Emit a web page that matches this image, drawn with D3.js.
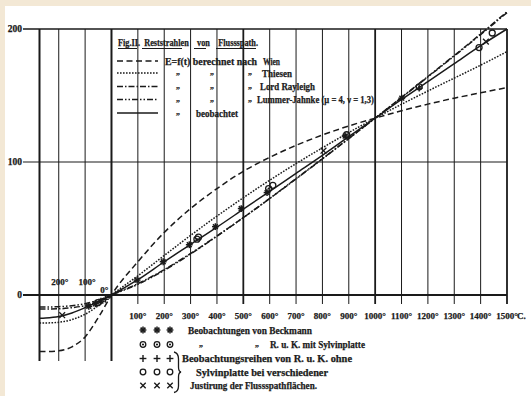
<!DOCTYPE html>
<html><head><meta charset="utf-8">
<script src="https://cdn.jsdelivr.net/npm/d3@7"></script>
<style>
html,body{margin:0;padding:0;background:#fff;}
svg{display:block;}
text{font-family:"Liberation Serif","DejaVu Serif",serif;font-weight:bold;fill:#1a1a1a;stroke:#1a1a1a;stroke-width:0.25px;}
</style></head><body>
<svg id="chart" width="531" height="396"></svg>
<script>
// Temperatures (°C) at which the curves are tabulated
const temps = [-273, -250, -200, -150, -100, -50, 0, 100, 200, 300, 400, 500, 600, 700, 800, 900, 1000, 1100, 1200, 1300, 1400, 1500];
// E = f(t) computed after the different radiation formulas
const wien     = [-42.5, -42.5, -42, -39, -31.5, -17, 0, 25, 47, 65, 80, 93, 103.5, 112.5, 120.3, 127.1, 133, 138.5, 143.5, 148, 152, 156];
const thiesen  = [-21, -21, -20.5, -18.5, -14.5, -8, 0, 14.4, 29.7, 44.8, 59.3, 73.1, 86.3, 98.8, 110.7, 122.1, 133, 143.4, 153.4, 163.1, 172.8, 183];
const rayleigh = [-10.5, -10.5, -10.4, -9.5, -8, -5, 0, 8.5, 19.1, 31.2, 44.4, 58.2, 72.5, 87.3, 102.3, 117.6, 133, 148.6, 164.3, 180.1, 196.3, 213];
const lummer   = [-9, -9, -8.8, -8, -6.5, -4, 0, 8, 18.6, 30.8, 44.2, 58.2, 72.6, 87.5, 102.5, 117.7, 133, 148.4, 164, 179.7, 195.8, 212.3];
const observed = [-17.5, -17.3, -16.2, -13.5, -9.5, -5, 0, 11.5, 25, 38, 51, 64.5, 78, 91.5, 105, 119, 133, 147, 160.5, 174, 187.5, 200];

// Observation points
const beckmannT = [-86, -61, -40, 97, 196, 295, 394, 492, 590, 886, 1101];
const beckmannE = [-8.6, -6.6, -4.6, 11.2, 25, 37.8, 51.4, 65, 77, 119.5, 148];
const sylvinT = [-52, 324, 596, 892, 1167];
const sylvinE = [-5.8, 42, 80, 120.5, 156.5];
const plusT = [-23, 1167];
const plusE = [-3.2, 155.5];
const ringT = [330, 612, 1394, 1444];
const ringE = [43.5, 82.5, 186, 197];
const crossT = [-187, 804, 1420];
const crossE = [-15.2, 108.5, 190.5];

// Axis ticks and labels
const posTicks = [100, 200, 300, 400, 500, 600, 700, 800, 900, 1000, 1100, 1200, 1300, 1400, 1500];
const negTicks = [-273, -200, -100, 0];
const heavyTicks = [-273, 0, 500, 1000, 1500];
const negLabels = ["200°", "100°", "0°"];
const yTicks = [0, 100, 200];

const ink = "#1a1a1a";
const svg = d3.select("#chart");

// paper edge
svg.append("rect").attr("width", 531).attr("height", 396).attr("fill", "#f3e8d5");
svg.append("rect").attr("x", 5).attr("y", 6).attr("width", 526).attr("height", 390).attr("fill", "#fff");

const x = d3.scaleLinear().domain([-273, 1500]).range([39.5, 507]);
const y = d3.scaleLinear().domain([0, 200]).range([295, 29]);

const g = svg.append("g");

// horizontal rules
yTicks.forEach(v => {
  g.append("line").attr("x1", 23).attr("x2", x(1500)).attr("y1", y(v)).attr("y2", y(v))
    .attr("stroke", ink).attr("stroke-width", v === 0 ? 1.9 : (v === 200 ? 1.5 : 1.1));
  g.append("text").attr("x", 22).attr("y", y(v) + 3).attr("text-anchor", "end")
    .attr("font-size", 9.5).text(v);
});

// vertical rules
posTicks.forEach(t => {
  g.append("line").attr("x1", x(t)).attr("x2", x(t)).attr("y1", y(200)).attr("y2", 304)
    .attr("stroke", ink).attr("stroke-width", heavyTicks.includes(t) ? 1.8 : 1);
});
negTicks.forEach(t => {
  g.append("line").attr("x1", x(t)).attr("x2", x(t)).attr("y1", y(200)).attr("y2", 361)
    .attr("stroke", ink).attr("stroke-width", heavyTicks.includes(t) ? 2 : 1);
});

// x labels
posTicks.forEach(t => {
  g.append("text").attr("x", x(t)).attr("y", 319).attr("text-anchor", "middle")
    .attr("font-size", 9).text(t + "°");
});
g.append("text").attr("x", x(1500) + 10).attr("y", 319).attr("font-size", 9).text("C.");
g.append("text").attr("x", x(-200) + 1).attr("y", 285).attr("text-anchor", "middle").attr("font-size", 9).text(negLabels[0]);
g.append("text").attr("x", x(-100) + 2).attr("y", 285).attr("text-anchor", "middle").attr("font-size", 9).text(negLabels[1]);
g.append("text").attr("x", x(0) - 3).attr("y", 293).attr("text-anchor", "end").attr("font-size", 9).text(negLabels[2]);

// curves
const line = d3.line().x(d => x(d[0])).y(d => y(d[1])).curve(d3.curveMonotoneX);
const curves = [
  { vals: wien, dash: "6,3.5" },
  { vals: thiesen, dash: "1.6,1.4" },
  { vals: rayleigh, dash: "6,2,1.5,2" },
  { vals: lummer, dash: "6,2,1.5,2,1.5,2" },
  { vals: observed, dash: null }
];
curves.forEach(c => {
  g.append("path").attr("d", line(temps.map((t, i) => [t, c.vals[i]])))
    .attr("fill", "none").attr("stroke", ink).attr("stroke-width", 1.5)
    .attr("stroke-dasharray", c.dash);
});

// marker shapes
function star(sel, cx, cy, r) {
  [0, 45, 90, 135].forEach(a => {
    const dx = r * Math.cos(a * Math.PI / 180), dy = r * Math.sin(a * Math.PI / 180);
    sel.append("line").attr("x1", cx - dx).attr("y1", cy - dy).attr("x2", cx + dx).attr("y2", cy + dy)
      .attr("stroke", ink).attr("stroke-width", 1.5);
  });
}
function ring(sel, cx, cy, r, dot) {
  sel.append("circle").attr("cx", cx).attr("cy", cy).attr("r", r).attr("fill", "none")
    .attr("stroke", ink).attr("stroke-width", 1.3);
  if (dot) sel.append("circle").attr("cx", cx).attr("cy", cy).attr("r", 1.1).attr("fill", ink);
}
function plus(sel, cx, cy, r) {
  sel.append("line").attr("x1", cx - r).attr("x2", cx + r).attr("y1", cy).attr("y2", cy).attr("stroke", ink).attr("stroke-width", 1.4);
  sel.append("line").attr("x1", cx).attr("x2", cx).attr("y1", cy - r).attr("y2", cy + r).attr("stroke", ink).attr("stroke-width", 1.4);
}
function cross(sel, cx, cy, r) {
  sel.append("line").attr("x1", cx - r).attr("x2", cx + r).attr("y1", cy - r).attr("y2", cy + r).attr("stroke", ink).attr("stroke-width", 1.3);
  sel.append("line").attr("x1", cx - r).attr("x2", cx + r).attr("y1", cy + r).attr("y2", cy - r).attr("stroke", ink).attr("stroke-width", 1.3);
}

beckmannT.forEach((t, i) => star(g, x(t), y(beckmannE[i]), 3.4));
sylvinT.forEach((t, i) => ring(g, x(t), y(sylvinE[i]), 3, true));
plusT.forEach((t, i) => plus(g, x(t), y(plusE[i]), 3.4));
ringT.forEach((t, i) => ring(g, x(t), y(ringE[i]), 3, false));
crossT.forEach((t, i) => cross(g, x(t), y(crossE[i]), 2.9));

// upper legend: title, each word underlined
const lg = svg.append("g");
lg.append("text").attr("x", 118).attr("y", 45.5).attr("font-size", 10.5)
  .style("white-space", "pre").attr("xml:space", "preserve")
  .attr("textLength", 140).attr("lengthAdjust", "spacingAndGlyphs")
  .text("Fig.II.  Reststrahlen    von    Flussspath.");
const underlines = [[118, 137], [142, 182], [194, 206], [216, 256]];
underlines.forEach(u => {
  lg.append("line").attr("x1", u[0]).attr("x2", u[1]).attr("y1", 48.5).attr("y2", 48.5)
    .attr("stroke", ink).attr("stroke-width", 1);
});
const rowsY = [61, 73, 86.5, 99.5, 113];
const names = [["Wien", 263, 17], ["Thiesen", 262, 30], ["Lord Rayleigh", 260, 55], ["Lummer-Jahnke (μ = 4, ν = 1,3)", 257, 117], ["beobachtet", 196, 42]];
curves.forEach((c, i) => {
  lg.append("line").attr("x1", 117).attr("x2", 158).attr("y1", rowsY[i]).attr("y2", rowsY[i])
    .attr("stroke", ink).attr("stroke-width", 1.7).attr("stroke-dasharray", c.dash);
  lg.append("text").attr("x", names[i][1]).attr("y", rowsY[i] + 3.5).attr("font-size", 10.5)
    .attr("textLength", names[i][2]).attr("lengthAdjust", "spacingAndGlyphs").text(names[i][0]);
  const dittos = i === 0 ? [] : (i === 4 ? [176] : [176, 210, 248]);
  dittos.forEach(dx => lg.append("text").attr("x", dx).attr("y", rowsY[i] + 1).attr("font-size", 8).text("\u201E"));
});
lg.append("text").attr("x", 165).attr("y", rowsY[0] + 3.5).attr("font-size", 10.5)
  .attr("textLength", 92).attr("lengthAdjust", "spacingAndGlyphs").text("E=f(t) berechnet nach");

// lower legend
const lowY = [330, 344.5, 358.5, 372, 385.5];
const markXs = [143, 157, 170];
markXs.forEach(mx => {
  star(lg, mx, lowY[0], 3.4);
  ring(lg, mx, lowY[1], 2.8, true);
  plus(lg, mx, lowY[2], 3.4);
  ring(lg, mx, lowY[3], 2.8, false);
  cross(lg, mx, lowY[4], 2.7);
});
const lowText = [["Beobachtungen von Beckmann", 188, 124], ["R. u. K. mit Sylvinplatte", 270, 95],
  ["Beobachtungsreihen von R. u. K. ohne", 182, 170], ["Sylvinplatte bei verschiedener", 196, 132],
  ["Justirung der Flussspathflächen.", 190, 127]];
lowText.forEach((r, i) => {
  lg.append("text").attr("x", r[1]).attr("y", lowY[i] + 3.5).attr("font-size", 10.5)
    .attr("textLength", r[2]).attr("lengthAdjust", "spacingAndGlyphs").text(r[0]);
});
[199, 255].forEach(dx => lg.append("text").attr("x", dx).attr("y", lowY[1] + 1).attr("font-size", 8).text("\u201E"));
// brace grouping the three R. u. K. series
lg.append("path")
  .attr("d", "M174,352 Q178.5,353 178.5,359 L178.5,367 Q178.5,371.5 181,372 Q178.5,372.5 178.5,377 L178.5,386 Q178.5,391.5 174,392.5")
  .attr("fill", "none").attr("stroke", ink).attr("stroke-width", 1.3);
</script>
</body></html>
